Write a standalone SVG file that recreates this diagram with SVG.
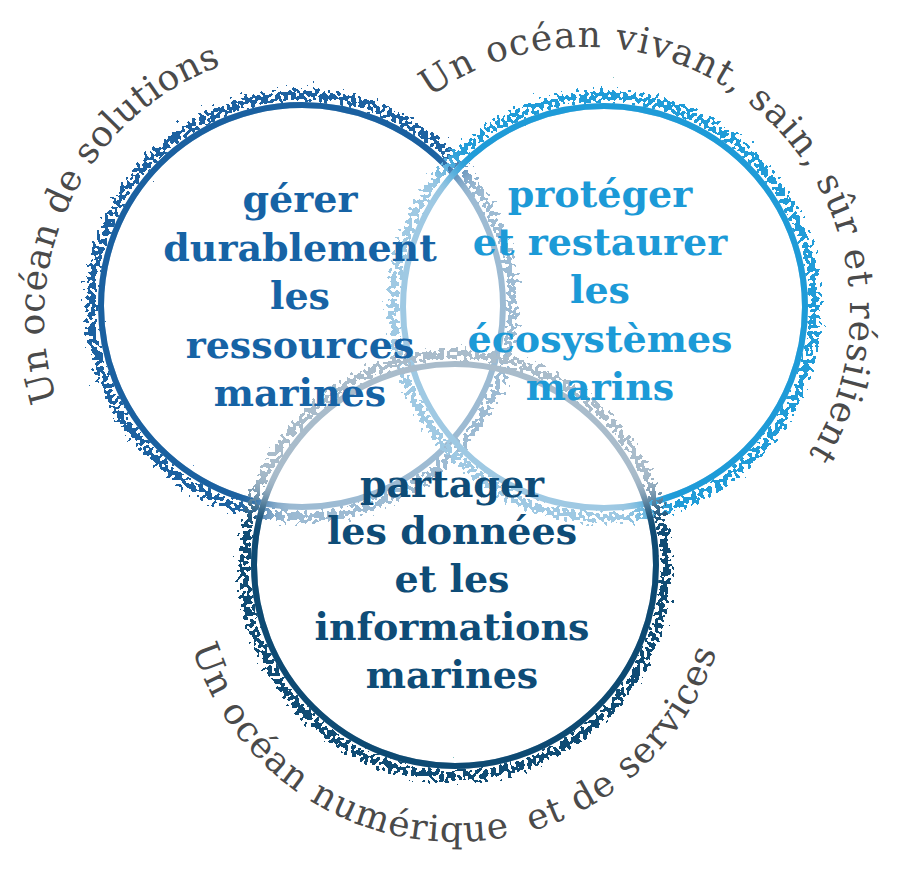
<svg xmlns="http://www.w3.org/2000/svg" xmlns:xlink="http://www.w3.org/1999/xlink" width="900" height="874" viewBox="0 0 900 874">
<style>
.core{fill:none;stroke-width:6}
.halo{fill:none;stroke-width:12}
.lbl{font-family:"DejaVu Serif","Liberation Serif",serif;font-weight:bold;font-size:38px;text-anchor:middle}
.t1{fill:#1663a5}
.t2{fill:#1c9ad7}
.t3{fill:#0e4c77}
.arc{font-family:"DejaVu Serif","Liberation Serif",serif;font-size:36px;fill:#4a4a4a}
</style>
<defs>
<filter id="soft" x="-20%" y="-20%" width="140%" height="140%"><feGaussianBlur stdDeviation="14"/></filter>
<filter id="stip" filterUnits="userSpaceOnUse" x="0" y="0" width="900" height="874" color-interpolation-filters="sRGB">
<feGaussianBlur in="SourceAlpha" stdDeviation="5" result="ba"/>
<feTurbulence type="fractalNoise" baseFrequency="0.25" numOctaves="1" seed="4" result="nz"/>
<feColorMatrix in="nz" type="matrix" values="0 0 0 0 0  0 0 0 0 0  0 0 0 0 0  1 0 0 0 0" result="na"/>
<feComposite in="ba" in2="na" operator="arithmetic" k1="0" k2="0.48" k3="1" k4="-0.32" result="sum"/>
<feComponentTransfer in="sum" result="dots"><feFuncA type="discrete" tableValues="0 1"/></feComponentTransfer>
<feGaussianBlur in="SourceGraphic" stdDeviation="6" result="cb"/>
<feComponentTransfer in="cb" result="col"><feFuncA type="linear" slope="60" intercept="0"/></feComponentTransfer>
<feComposite in="col" in2="dots" operator="in"/>
</filter>
<mask id="m1" maskUnits="userSpaceOnUse" x="0" y="0" width="900" height="874">
<rect width="900" height="874" fill="#fff"/>
<circle cx="604" cy="307" r="201" fill="#000" filter="url(#soft)"/>
<circle cx="455" cy="565" r="201" fill="#000" filter="url(#soft)"/>
</mask>
<mask id="m2" maskUnits="userSpaceOnUse" x="0" y="0" width="900" height="874">
<rect width="900" height="874" fill="#fff"/>
<circle cx="302" cy="306" r="201" fill="#000" filter="url(#soft)"/>
<circle cx="455" cy="565" r="201" fill="#000" filter="url(#soft)"/>
</mask>
<mask id="m3" maskUnits="userSpaceOnUse" x="0" y="0" width="900" height="874">
<rect width="900" height="874" fill="#fff"/>
<circle cx="302" cy="306" r="201" fill="#000" filter="url(#soft)"/>
<circle cx="604" cy="307" r="201" fill="#000" filter="url(#soft)"/>
</mask>
<path id="pLeft" d="M56.8,399.9 A268,268 0 0 1 312,50"/>
<path id="pRight" d="M429.6,97.3 A265,265 0 0 1 788,482.3"/>
<path id="pBottom" d="M192.2,647.9 A275,275 0 0 0 720.6,638.2"/>
</defs>
<rect width="900" height="874" fill="#fff"/>

<g id="circle-gerer">
<g filter="url(#stip)">
<circle class="halo" cx="302" cy="306" r="211" stroke="#9dbbd3"/>
<circle class="halo" cx="302" cy="306" r="211" stroke="#1a60a0" mask="url(#m1)"/>
</g>
<circle class="core" cx="302" cy="306" r="201" stroke="#9dbbd3"/>
<circle class="core" cx="302" cy="306" r="201" stroke="#1a60a0" mask="url(#m1)"/>
</g>

<g id="circle-proteger">
<g filter="url(#stip)">
<circle class="halo" cx="604" cy="307" r="211" stroke="#9fc9e3"/>
<circle class="halo" cx="604" cy="307" r="211" stroke="#1e9bd8" mask="url(#m2)"/>
</g>
<circle class="core" cx="604" cy="307" r="201" stroke="#9fc9e3"/>
<circle class="core" cx="604" cy="307" r="201" stroke="#1e9bd8" mask="url(#m2)"/>
</g>

<g id="circle-partager">
<g filter="url(#stip)">
<circle class="halo" cx="455" cy="565" r="211" stroke="#a9bccb"/>
<circle class="halo" cx="455" cy="565" r="211" stroke="#0d4a73" mask="url(#m3)"/>
</g>
<circle class="core" cx="455" cy="565" r="201" stroke="#a9bccb"/>
<circle class="core" cx="455" cy="565" r="201" stroke="#0d4a73" mask="url(#m3)"/>
</g>

<g id="connectors"></g>

<g id="node-gerer" class="lbl t1">
<text x="300" y="212">gérer</text>
<text x="300" y="260.5">durablement</text>
<text x="300" y="309">les</text>
<text x="300" y="357.5">ressources</text>
<text x="300" y="406">marines</text>
</g>
<g id="node-proteger" class="lbl t2">
<text x="600" y="207">protéger</text>
<text x="600" y="255">et restaurer</text>
<text x="600" y="303">les</text>
<text x="600" y="352">écosystèmes</text>
<text x="600" y="400">marins</text>
</g>
<g id="node-partager" class="lbl t3">
<text x="452" y="497">partager</text>
<text x="452" y="544">les données</text>
<text x="452" y="592">et les</text>
<text x="452" y="640">informations</text>
<text x="452" y="688">marines</text>
</g>

<g id="arc-labels" class="arc">
<text letter-spacing="0.35"><textPath href="#pLeft" xlink:href="#pLeft">Un océan de solutions</textPath></text>
<text letter-spacing="1.26"><textPath href="#pRight" xlink:href="#pRight">Un océan vivant, sain, sûr et résilient</textPath></text>
<text letter-spacing="1.3"><textPath href="#pBottom" xlink:href="#pBottom">Un océan numérique <tspan dx="8">et de services</tspan></textPath></text>
</g>
</svg>
